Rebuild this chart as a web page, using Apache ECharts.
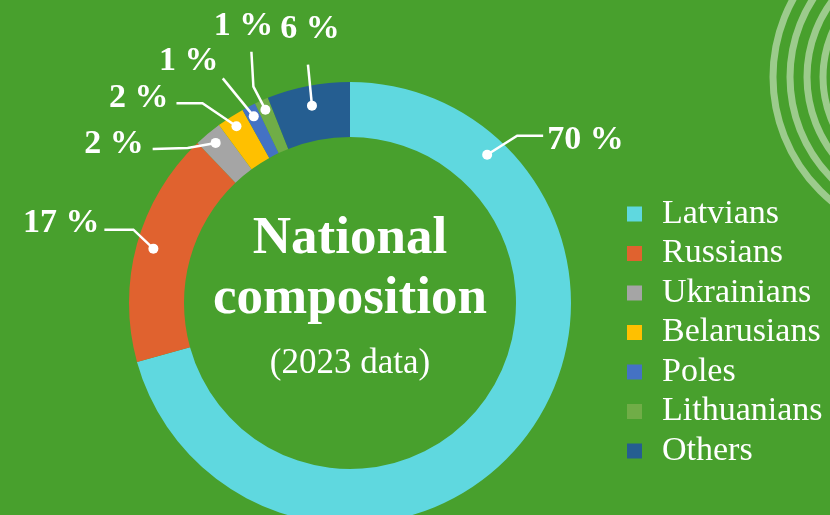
<!DOCTYPE html>
<html>
<head>
<meta charset="utf-8">
<title>National composition</title>
<script src="https://cdn.jsdelivr.net/npm/echarts@6/dist/echarts.min.js"></script>
<style>
  html, body { margin: 0; padding: 0; background: #48a02d; }
  #chart { width: 830px; height: 515px; }
</style>
</head>
<body>
<div id="chart"></div>
<script>
// data
const categories = ['Latvians', 'Russians', 'Ukrainians', 'Belarusians', 'Poles', 'Lithuanians', 'Others'];
const shares = [70, 17, 2, 2, 1, 1, 6];
const titleLines = ['National', 'composition', '(2023 data)'];

// look
const bg = '#48a02d';
const sliceColors = ['#5fd8df', '#e0622f', '#a5a5a5', '#ffc000', '#4472c4', '#70ad47', '#255e91'];
const CX = 350, CY = 303, R0 = 166, R1 = 221;

// where the leader line starts inside each slice (fraction along slice, radius px)
const anchorFrac = [0.168, 0.5, 0.5, 0.5, 0.5, 0.5, 0.5];
const anchorR = [202, 204, 209, 210, 210, 211, 201];
// leader shape, offsets from the dot
const leaders = [
  { elbow: [30, -19], end: [56, -19], label: [60, -14], align: 'left' },
  { elbow: [-20, -19], end: [-49, -19], label: [-54, -25], align: 'right' },
  { elbow: [-28, 5], end: [-63, 6], label: [-72, 1], align: 'right' },
  { elbow: [-34, -23], end: [-60, -23], label: [-68, -28], align: 'right' },
  { elbow: [-31, -38], end: [-31, -38], label: [-65, -55], align: 'center' },
  { elbow: [-12, -23], end: [-14, -58], label: [-22, -83], align: 'center' },
  { elbow: [-4, -41], end: [-4, -41], label: [-2, -76], align: 'center' }
];

const total = shares.reduce((a, b) => a + b, 0);
let acc = 0;
const dots = shares.map((v, i) => {
  const a = acc + v * anchorFrac[i];
  acc += v;
  return [anchorR[i], a];
});

const chart = echarts.init(document.getElementById('chart'));

const arcs = [161, 144, 127, 111].map(r => ({
  type: 'circle',
  shape: { cx: 934, cy: 77, r: r },
  style: { fill: 'none', stroke: '#9ccb8c', lineWidth: 7 },
  silent: true
}));

const titleY = [239, 299, 364];
const titleFont = [
  'bold 53px "Liberation Serif"',
  'bold 53px "Liberation Serif"',
  '35px "Liberation Serif"'
];
const titles = titleLines.map((t, i) => ({
  type: 'text',
  x: CX,
  y: titleY[i],
  style: {
    text: t,
    font: titleFont[i],
    fill: '#fff',
    textAlign: 'center',
    textVerticalAlign: 'middle'
  },
  z: 10
}));

// dot + leader line + percent label for each slice
function renderLeader(params, api) {
  const i = params.dataIndex;
  const p = api.coord([api.value(0), api.value(1)]);
  const g = leaders[i];
  return {
    type: 'group',
    children: [
      {
        type: 'polyline',
        shape: {
          points: [
            [p[0], p[1]],
            [p[0] + g.elbow[0], p[1] + g.elbow[1]],
            [p[0] + g.end[0], p[1] + g.end[1]]
          ]
        },
        style: { stroke: '#fff', lineWidth: 2.5, fill: 'none' }
      },
      {
        type: 'circle',
        shape: { cx: p[0], cy: p[1], r: 5 },
        style: { fill: '#fff' }
      },
      {
        type: 'text',
        x: p[0] + g.label[0],
        y: p[1] + g.label[1],
        style: {
          text: shares[i] + ' %',
          fill: '#fff',
          font: 'bold 34px "Liberation Serif"',
          textAlign: g.align,
          textVerticalAlign: 'middle'
        }
      }
    ]
  };
}

chart.setOption({
  backgroundColor: bg,
  animation: false,
  color: sliceColors,
  legend: {
    orient: 'vertical',
    left: 627,
    top: 197,
    padding: 0,
    icon: 'rect',
    itemWidth: 15,
    itemHeight: 15,
    itemGap: 5.5,
    data: categories,
    textStyle: {
      color: '#fff',
      fontFamily: 'Liberation Serif',
      fontSize: 34,
      lineHeight: 34,
      padding: [0, 0, 0, 15]
    }
  },
  polar: { center: [CX, CY], radius: R1 },
  angleAxis: { type: 'value', min: 0, max: total, startAngle: 90, clockwise: true, show: false },
  radiusAxis: { type: 'value', min: 0, max: R1, show: false },
  graphic: arcs.concat(titles),
  series: [
    {
      id: 'pie',
      type: 'pie',
      center: [CX, CY],
      radius: [R0, R1],
      startAngle: 90,
      clockwise: true,
      data: categories.map((c, i) => ({ name: c, value: shares[i] })),
      itemStyle: { borderWidth: 0 },
      emphasis: { disabled: true },
      label: { show: false },
      labelLine: { show: false }
    },
    {
      id: 'leaders',
      type: 'custom',
      coordinateSystem: 'polar',
      data: dots,
      renderItem: renderLeader,
      silent: true,
      z: 5
    }
  ]
});
</script>
</body>
</html>
